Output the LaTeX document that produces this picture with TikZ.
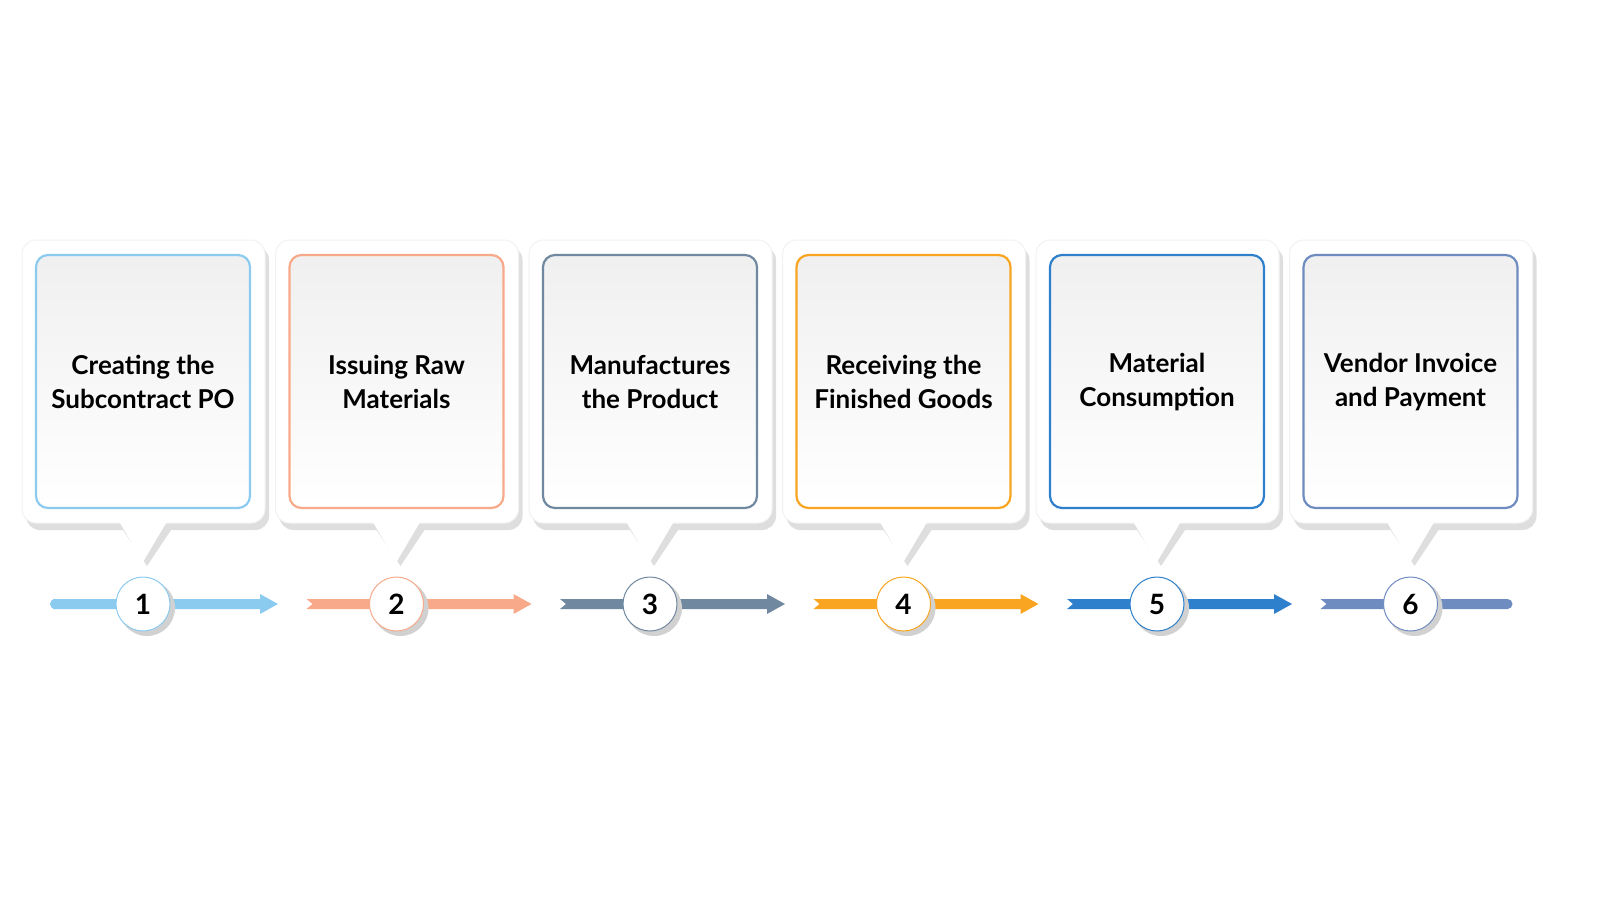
\documentclass[tikz,border=0pt]{standalone}
\usepackage{fontspec}
\setmainfont{Lato}
\begin{document}
\begin{tikzpicture}[x=1pt,y=-1pt,
  card/.style={fill=white,draw=black!5,line width=1pt,rounded corners=14pt},
  inner/.style={line width=2.2pt,rounded corners=12pt,top color=black!6,bottom color=white},
  num/.style={circle,minimum size=54pt,fill=white,line width=1pt,font=\bfseries\fontsize{28}{30}\selectfont,inner sep=0},
  lbl/.style={align=center,font=\bfseries\fontsize{26}{34}\selectfont}]
\useasboundingbox (0,0) rectangle (1600,900);
\definecolor{c1}{HTML}{8CCBF0}\definecolor{c2}{HTML}{F7A98A}\definecolor{c3}{HTML}{7089A0}
\definecolor{c4}{HTML}{F9A521}\definecolor{c5}{HTML}{2F80CC}\definecolor{c6}{HTML}{6F8CC0}
\foreach \i/\c/\t/\n in {1/c1/{Creating the\\Subcontract PO}/0,2/c2/{Issuing Raw\\Materials}/6,3/c3/{Manufactures\\the Product}/6,4/c4/{Receiving the\\Finished Goods}/6,5/c5/{Material\\Consumption}/6,6/c6/{Vendor Invoice\\and Payment}/6}{
  \pgfmathsetmacro\cx{143+253.5*(\i-1)}
  \pgfmathsetmacro\xa{\cx-90}
  \pgfmathsetmacro\xn{\cx-90+\n}
  \pgfmathsetmacro\xb{\cx+117}
  \pgfmathsetmacro\xc{\cx+135}
  \pgfmathsetmacro\xe{\cx+97}
  % shadow
  \fill[black!13,rounded corners=14pt] (\cx-117,246) rectangle (\cx+126,530);
  \fill[black!13] (\cx-22,527) -- (\cx+30,527) -- (\cx+4,566) -- cycle;
  % card
  \fill[card] (\cx-121,240) rectangle (\cx+122,523);
  \fill[white] (\cx-26,518) -- (\cx+26,518) -- (\cx,562) -- cycle;
  \node[draw=\c,inner,minimum width=214pt,minimum height=253pt] (b\i) at (\cx,381.5) {};
  \node[lbl] (t\i) at (\cx,382) {\t};
  \ifnum\i<6
    \fill[\c] (\xa,599) -- (\xb,599) -- (\xb,594) -- (\xc,604) -- (\xb,614) -- (\xb,609) -- (\xa,609) -- (\xn,604) -- cycle;
  \else
    \fill[\c] (\xa,599) -- (\xe,599) -- (\xe,609) -- (\xa,609) -- (\xn,604) -- cycle;
    \fill[\c] (\xe,604) circle (5);
  \fi
  \fill[black!18] (\cx+4,608) circle (28);
  \node[num,draw=\c] (n\i) at (\cx,604) {\i};
}
\fill[c1] (53,599) rectangle (60,609); \fill[c1] (55,604) circle (5);
\end{tikzpicture}
\end{document}
